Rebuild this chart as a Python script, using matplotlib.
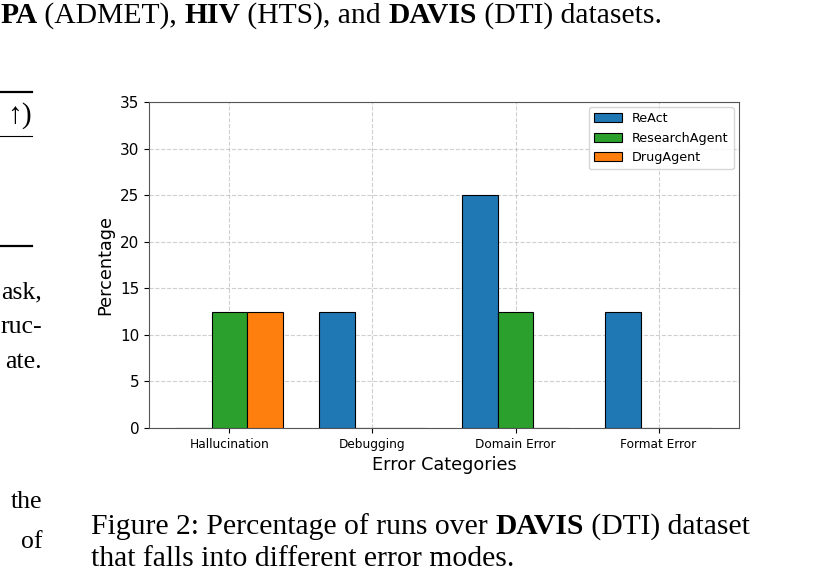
import matplotlib
matplotlib.use("Agg")
import matplotlib.pyplot as plt
import numpy as np

# data
categories = ["Hallucination", "Debugging", "Domain Error", "Format Error"]
agents = ["ReAct", "ResearchAgent", "DrugAgent"]
react = [0.0, 12.5, 25.0, 12.5]
research_agent = [12.5, 0.0, 12.5, 0.0]
drug_agent = [12.5, 0.0, 0.0, 0.0]
colors = ["#1f77b4", "#2ca02c", "#ff7f0e"]

W, H = 836, 571
fig = plt.figure(figsize=(W / 100, H / 100), dpi=100)

SERIF = ["Liberation Serif", "DejaVu Serif"]
FS = 21.3


def px(x, y):
    # pixel coords (top-left origin) -> figure fraction
    return x / W, 1 - y / H


def runs(x, y, parts, size):
    # draw text pieces one after another on the same baseline
    r = fig.canvas.get_renderer()
    fx, fy = px(x, y)
    for s, bold in parts:
        t = fig.text(fx, fy, s, fontsize=size, family=SERIF,
                     fontweight="bold" if bold else "normal",
                     va="baseline", ha="left")
        bb = t.get_window_extent(renderer=r)
        fx += bb.width / W


# surrounding page text
runs(0, 23, [("PA", True), (" (ADMET), ", False), ("HIV", True),
             (" (HTS), and ", False), ("DAVIS", True), (" (DTI) datasets.", False)], FS)

for (yy, lw) in [(92, 1.6), (136, 0.8), (246, 1.6)]:
    fig.add_artist(plt.Line2D([0, 32 / W], [1 - yy / H] * 2, color="black", lw=lw))

fig.text(*px(32, 123), "\u2191)", fontsize=FS, family=SERIF, ha="right", va="baseline")
for s, yy in [("ask,", 298), ("ruc-", 333), ("ate.", 368), ("the", 508), ("of", 548)]:
    fig.text(*px(42, yy), s, fontsize=18.5, family=SERIF, ha="right", va="baseline")

runs(91, 534, [("Figure 2: Percentage of runs over ", False), ("DAVIS", True),
               (" (DTI) dataset", False)], FS)
runs(91, 566, [("that falls into different error modes.", False)], FS)

# chart
ax = fig.add_axes([149 / W, 1 - 428 / H, 590 / W, 326 / H])
x = np.arange(len(categories))
w = 0.25
for i, (vals, name) in enumerate(zip([react, research_agent, drug_agent], agents)):
    ax.bar(x + (i - 1) * w, vals, w, label=name, color=colors[i],
           edgecolor="black", linewidth=0.8, zorder=3)

ax.set_ylim(0, 35)
ax.set_xticks(x)
ax.set_xticklabels(categories, fontsize=8.7)
ax.tick_params(axis="y", labelsize=11)
ax.set_xlabel("Error Categories", fontsize=12.7, labelpad=4)
ax.set_ylabel("Percentage", fontsize=12.7, labelpad=4)
ax.grid(True, linestyle="--", alpha=0.6, zorder=0)
for sp in ax.spines.values():
    sp.set_color("#555555")
ax.legend(loc="upper right", fontsize=9.2, handlelength=2.2, borderaxespad=0.4)

fig.savefig("out.png", dpi=100)
